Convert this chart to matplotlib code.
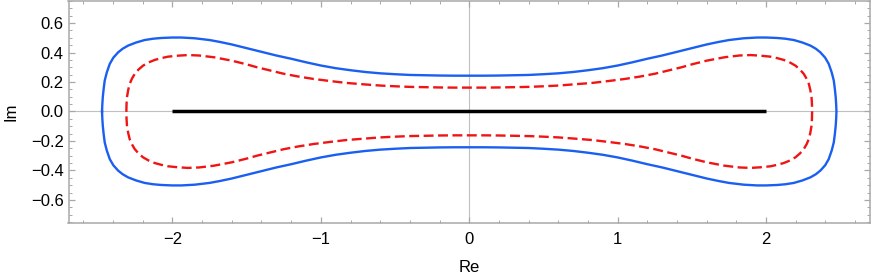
import matplotlib
matplotlib.use("Agg")
import matplotlib.pyplot as plt
import numpy as np
from matplotlib.ticker import MultipleLocator, FixedLocator

plt.rcParams['font.family'] = ['Liberation Sans', 'DejaVu Sans']

# Upper-left quarter of the blue (solid) contour
# (the figure is symmetric about both axes)
blue_x = [-2.474, -2.472, -2.469, -2.463, -2.456, -2.442, -2.422, -2.398, -2.366, -2.335,
          -2.299, -2.245, -2.187, -2.13, -2.074, -2.0, -1.94, -1.85, -1.75, -1.68, -1.6,
          -1.5, -1.4, -1.3, -1.2, -1.1, -1.0, -0.9, -0.8, -0.7, -0.6, -0.5, -0.4, -0.3,
          -0.2, -0.1, 0.0]
blue_y = [0.0, 0.05, 0.097, 0.155, 0.21, 0.265, 0.323, 0.365, 0.401, 0.426,
          0.447, 0.468, 0.485, 0.494, 0.499, 0.502, 0.502, 0.497, 0.485, 0.472, 0.455,
          0.430, 0.405, 0.380, 0.358, 0.334, 0.312, 0.294, 0.280, 0.268, 0.259, 0.253, 0.248, 0.246,
          0.244, 0.243, 0.243]

# Upper-left quarter of the red (dashed) contour
red_x = [-2.31, -2.309, -2.306, -2.298, -2.288, -2.273, -2.254, -2.228, -2.198, -2.16,
         -2.119, -2.075, -2.03, -1.96, -1.895, -1.82, -1.72, -1.6, -1.5, -1.43, -1.34,
         -1.25, -1.15, -1.05, -0.94, -0.83, -0.72, -0.6, -0.5, -0.4, -0.3, -0.2, -0.1, 0.0]
red_y = [0.0, 0.05, 0.097, 0.145, 0.187, 0.222, 0.255, 0.285, 0.311, 0.333,
         0.350, 0.362, 0.372, 0.379, 0.383, 0.380, 0.368, 0.345, 0.320, 0.300, 0.278,
         0.256, 0.237, 0.221, 0.207, 0.194, 0.185, 0.176, 0.171, 0.167, 0.165, 0.163, 0.162, 0.162]

# Black segment (spectrum on the real axis)
seg_x = [-2.0, 2.0]
seg_y = [0.0, 0.0]

x_ticks = [-2, -1, 0, 1, 2]
x_tick_labels = ['\u22122', '\u22121', '0', '1', '2']
y_ticks = [-0.6, -0.4, -0.2, 0.0, 0.2, 0.4, 0.6]
y_tick_labels = ['\u22120.6', '\u22120.4', '\u22120.2', '0.0', '0.2', '0.4', '0.6']


def closed(xs, ys):
    """Assemble the closed curve from its upper-left quarter using the symmetry."""
    xs = np.asarray(xs, float); ys = np.asarray(ys, float)
    upx = np.concatenate([xs, -xs[::-1][1:]])
    upy = np.concatenate([ys, ys[::-1][1:]])
    return (np.concatenate([upx, upx[::-1][1:]]), np.concatenate([upy, -upy[::-1][1:]]))


fig = plt.figure(figsize=(8.72, 2.80), dpi=100)
ax = fig.add_axes([68.5 / 872, 1 - 222.7 / 280, (870 - 68.5) / 872, 222.0 / 280])

ax.axhline(0, color='#c0c0c0', lw=0.8, zorder=1)
ax.axvline(0, color='#c0c0c0', lw=0.8, zorder=1)

bx, by = closed(blue_x, blue_y)
rx, ry = closed(red_x, red_y)
ax.plot(bx, by, color='#1a5ff2', lw=1.7, zorder=3, solid_joinstyle='round')
ax.plot(rx, ry, color='#f01414', lw=1.7, ls=(0, (4.2, 1.9)), zorder=3)
ax.plot(seg_x, seg_y, color='black', lw=2.5, zorder=4, solid_capstyle='butt')

ax.set_xlim(-2.70, 2.70)
ax.set_ylim(-0.755, 0.752)

ax.xaxis.set_major_locator(FixedLocator(x_ticks))
ax.set_xticklabels(x_tick_labels)
ax.yaxis.set_major_locator(FixedLocator(y_ticks))
ax.set_yticklabels(y_tick_labels)
ax.xaxis.set_minor_locator(MultipleLocator(0.2))
ax.yaxis.set_minor_locator(MultipleLocator(0.05))

frame_col = '#a8a8a8'
for s in ax.spines.values():
    s.set_color(frame_col)
    s.set_linewidth(1.1)

ax.tick_params(which='both', direction='in', top=True, right=True, color=frame_col,
               labelsize=12, labelcolor='black')
ax.tick_params(which='major', length=4.5, width=0.9)
ax.tick_params(which='minor', length=2.5, width=0.7)
ax.tick_params(axis='x', which='major', pad=7)
ax.tick_params(axis='y', which='major', pad=3.5)

ax.set_xlabel('Re', fontsize=12, labelpad=9)
ax.set_ylabel('Im', fontsize=12, labelpad=9)

fig.savefig('out.png', dpi=100)
